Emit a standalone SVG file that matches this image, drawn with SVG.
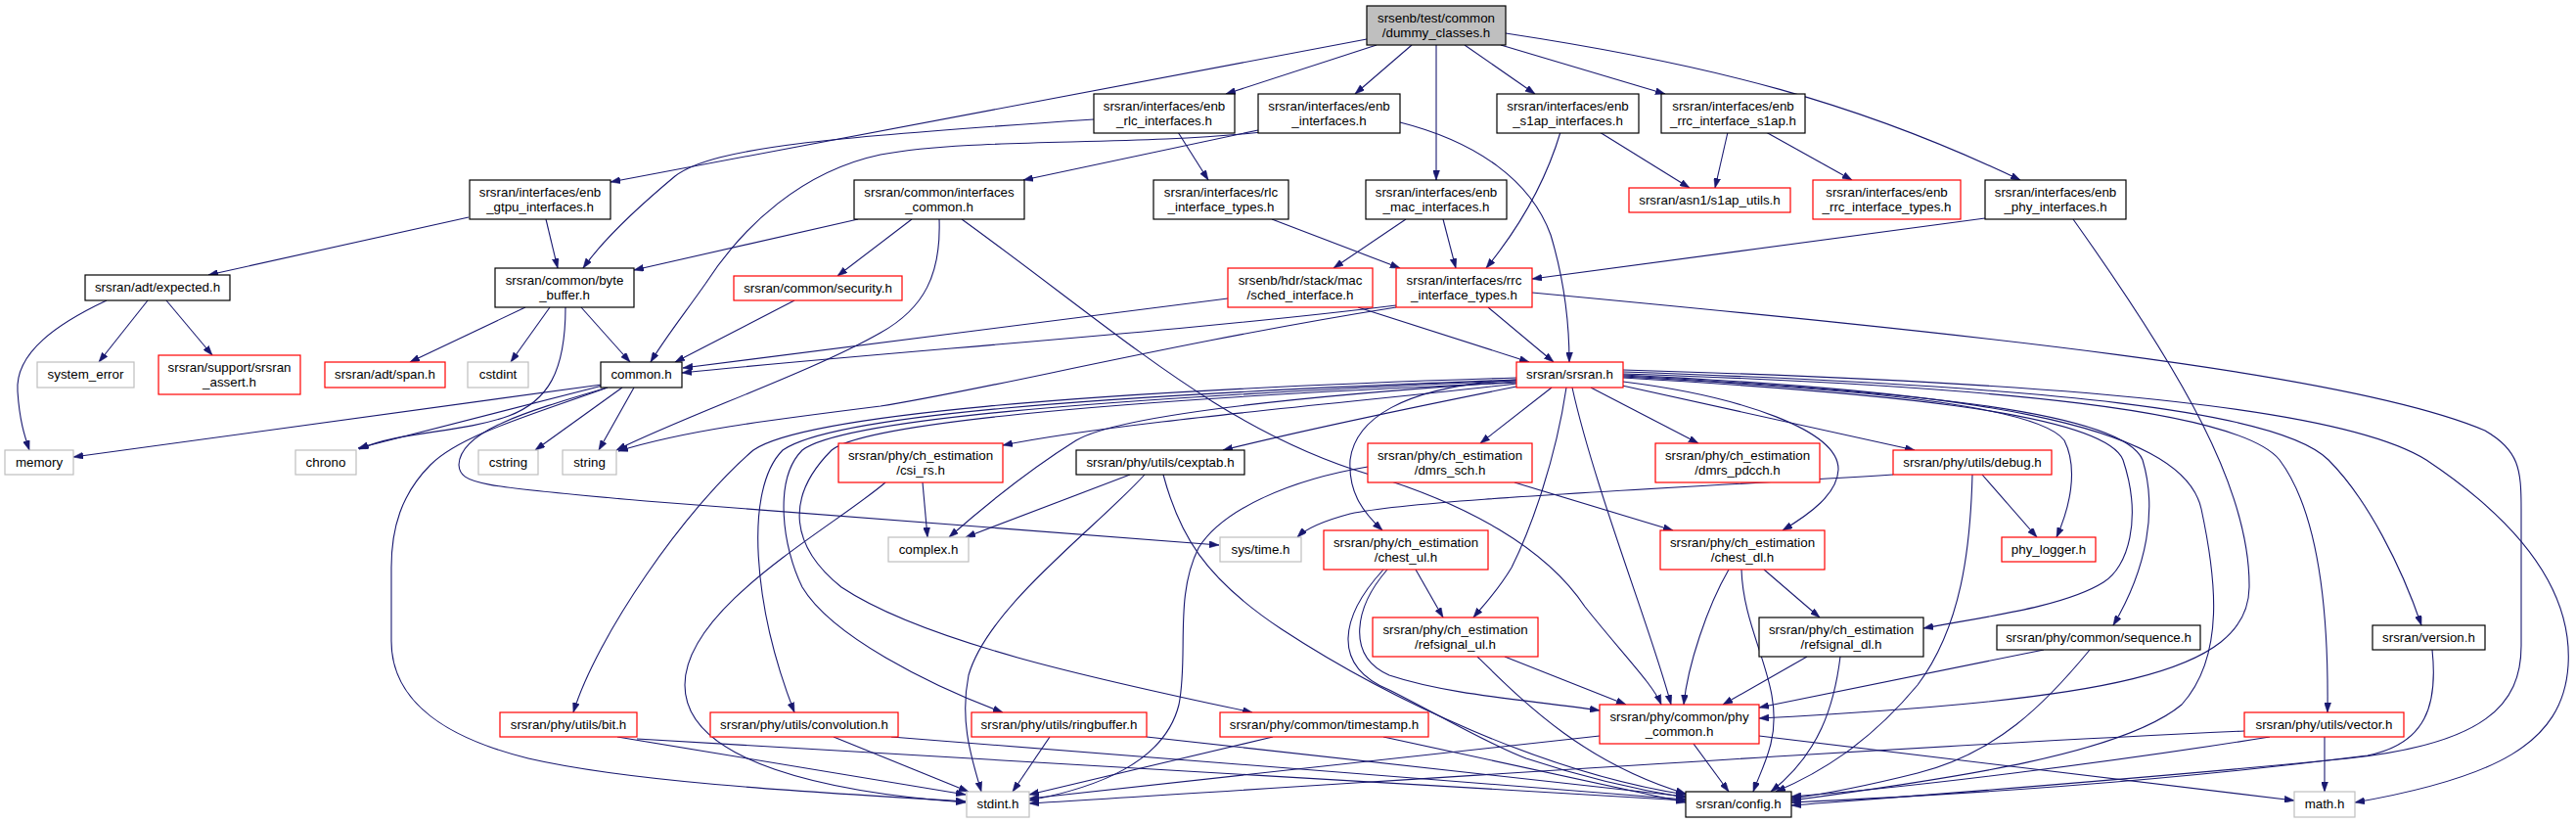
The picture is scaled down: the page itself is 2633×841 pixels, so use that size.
<svg xmlns="http://www.w3.org/2000/svg" width="2633" height="841" viewBox="0 0 2633 841">
<defs>
<marker id="ah" viewBox="0 0 10 7" refX="10" refY="3.5" markerWidth="10" markerHeight="7" markerUnits="userSpaceOnUse" orient="auto">
<path d="M0,0 L10,3.5 L0,7 z" fill="#191970" stroke="#191970" stroke-width="0.5"/>
</marker>
</defs>
<style>
.e{fill:none;stroke:#191970;stroke-width:1.1;marker-end:url(#ah)}
rect{fill:#fff;stroke-width:1.2}
.blk{stroke:#000}
.red{stroke:#ff0000}
.gry{stroke:#bfbfbf}
.root{fill:#bfbfbf;stroke:#000}
text{font-family:"Liberation Sans",Arial,Helvetica,sans-serif;font-size:13.33px;text-anchor:middle;fill:#000}
</style>
<rect x="0" y="0" width="2633" height="841" style="fill:#fff;stroke:none"/>
<g id="edges">
<path class="e" d="M1397,40 L624,186"/>
<path class="e" d="M1407,46 L1253,96"/>
<path class="e" d="M1443,46 L1385,96"/>
<path class="e" d="M1468,46 L1468,184"/>
<path class="e" d="M1497,46 L1569,96"/>
<path class="e" d="M1534,46 L1702,96"/>
<path class="e" d="M1539,34 C1750,66 1900,105 2065,184"/>
<path class="e" d="M479,222 L213,281"/>
<path class="e" d="M558,224 L570,274"/>
<path class="e" d="M1118,122 C850,140 730,150 690,180 C660,205 620,240 596,274"/>
<path class="e" d="M877,224 L648,276"/>
<path class="e" d="M1286,133 L1046,184"/>
<path class="e" d="M1290,135 C1150,150 1000,140 900,158 C820,175 760,230 721,290 C700,320 680,345 665,370"/>
<path class="e" d="M1431,125 C1510,145 1565,185 1585,240 C1600,290 1604,330 1604,370"/>
<path class="e" d="M1204,135 L1235,184"/>
<path class="e" d="M1437,224 L1363,274"/>
<path class="e" d="M1475,224 L1488,274"/>
<path class="e" d="M1595,135 C1580,185 1555,230 1519,274"/>
<path class="e" d="M1635,135 L1727,192"/>
<path class="e" d="M1766,135 L1753,192"/>
<path class="e" d="M1805,135 L1893,184"/>
<path class="e" d="M2029,223 L1566,285"/>
<path class="e" d="M2119,224 C2230,380 2300,500 2299,600 C2298,690 2150,715 1798,734"/>
<path class="e" d="M1300,224 L1431,274"/>
<path class="e" d="M109,307 C60,330 15,360 18,400 C20,430 25,445 30,460"/>
<path class="e" d="M151,307 L101,370"/>
<path class="e" d="M170,307 L217,363"/>
<path class="e" d="M537,314 L419,370"/>
<path class="e" d="M562,314 L522,370"/>
<path class="e" d="M594,314 L644,370"/>
<path class="e" d="M578,314 C578,380 560,410 520,425 C470,443 410,440 367,459"/>
<path class="e" d="M615,393 L75,467"/>
<path class="e" d="M616,394 L366,458"/>
<path class="e" d="M636,396 L547,460"/>
<path class="e" d="M648,396 L612,460"/>
<path class="e" d="M621,396 C540,420 470,440 469,475 C470,495 490,497 660,512 L1246,557"/>
<path class="e" d="M621,396 C540,425 470,445 440,475 C410,505 400,540 400,580 L400,655 C400,720 460,755 540,775 C640,798 800,808 987,819"/>
<path class="e" d="M932,224 L856,282"/>
<path class="e" d="M960,224 C962,280 945,315 900,340 C830,380 700,425 630,460"/>
<path class="e" d="M983,224 C1150,345 1250,440 1400,485 C1500,515 1580,560 1620,620 C1660,670 1690,700 1698,720"/>
<path class="e" d="M812,307 L690,370"/>
<path class="e" d="M1255,305 L698,376"/>
<path class="e" d="M1388,314 L1563,370"/>
<path class="e" d="M1521,314 L1588,370"/>
<path class="e" d="M1427,312 C1200,340 900,360 697,381"/>
<path class="e" d="M1427,314 C1200,350 1000,400 900,415 C780,430 700,440 632,461"/>
<path class="e" d="M1566,299 C2000,340 2400,380 2540,440 C2575,460 2577,480 2577,520 L2577,660 C2577,720 2540,760 2400,775 C2200,795 2000,810 1831,823"/>
<path class="e" d="M1550,390 C1400,400 1150,420 1100,450 C1060,475 1020,505 970,549"/>
<path class="e" d="M1550,392 C1400,410 1150,430 1025,455"/>
<path class="e" d="M1550,395 C1450,415 1330,440 1250,460"/>
<path class="e" d="M1550,386 C1100,400 820,425 770,460 C700,520 610,650 586,728"/>
<path class="e" d="M1550,388 C1100,405 850,425 800,460 C760,500 770,620 812,728"/>
<path class="e" d="M1550,389 C1100,408 860,430 820,460 C790,490 800,560 820,600 C850,650 950,700 1025,728"/>
<path class="e" d="M1550,391 C1100,410 880,435 850,460 C800,510 810,560 860,600 C950,660 1150,700 1280,728"/>
<path class="e" d="M1586,396 L1513,453"/>
<path class="e" d="M1550,388 C1430,395 1385,430 1380,470 C1378,505 1395,525 1413,542"/>
<path class="e" d="M1601,396 C1590,470 1565,540 1545,580 C1530,605 1515,620 1506,631"/>
<path class="e" d="M1607,396 C1630,500 1690,650 1708,720"/>
<path class="e" d="M1626,396 L1736,453"/>
<path class="e" d="M1659,390 C1780,405 1880,440 1879,480 C1878,505 1850,525 1822,542"/>
<path class="e" d="M1658,394 L1957,460"/>
<path class="e" d="M1659,385 C1850,395 2080,410 2110,450 C2125,480 2115,520 2102,549"/>
<path class="e" d="M1659,386 C1900,400 2150,420 2170,470 C2190,530 2175,580 2150,595 C2110,620 2030,630 1966,642"/>
<path class="e" d="M1659,384 C1950,400 2170,420 2190,470 C2205,520 2195,580 2160,639"/>
<path class="e" d="M1659,383 C2000,400 2230,430 2250,520 C2265,590 2275,670 2230,720 C2170,770 2000,795 1831,818"/>
<path class="e" d="M1659,382 C2050,395 2290,420 2330,470 C2375,530 2380,650 2379,728"/>
<path class="e" d="M1659,380 C2100,395 2330,420 2380,470 C2420,510 2455,580 2475,639"/>
<path class="e" d="M1659,378 C2150,392 2400,420 2480,470 C2570,530 2630,600 2625,680 C2620,760 2550,795 2407,820"/>
<path class="e" d="M943,493 L948,549"/>
<path class="e" d="M905,493 C850,540 700,620 700,700 C700,780 850,810 987,820"/>
<path class="e" d="M1155,485 L987,549"/>
<path class="e" d="M1170,485 C1120,540 1010,620 990,690 C980,740 995,780 1003,809"/>
<path class="e" d="M1189,485 C1205,545 1230,590 1310,643 C1420,715 1580,790 1723,812"/>
<path class="e" d="M1548,493 L1710,542"/>
<path class="e" d="M1398,477 C1320,490 1250,520 1225,560 C1200,610 1215,670 1205,720 C1190,780 1120,805 1052,818"/>
<path class="e" d="M1935,485 C1700,500 1450,510 1380,525 C1350,533 1335,540 1326,549"/>
<path class="e" d="M2016,485 C2014,560 2005,640 1960,700 C1910,760 1860,790 1815,809"/>
<path class="e" d="M2026,485 L2082,549"/>
<path class="e" d="M1447,582 L1475,631"/>
<path class="e" d="M1418,582 C1385,620 1375,670 1420,690 C1480,710 1560,715 1635,726"/>
<path class="e" d="M1414,582 C1370,630 1360,680 1420,705 C1470,730 1520,760 1560,775 C1620,795 1680,808 1723,815"/>
<path class="e" d="M1538,671 L1662,720"/>
<path class="e" d="M1510,671 C1560,720 1620,780 1723,811"/>
<path class="e" d="M1767,582 C1745,620 1725,680 1721,720"/>
<path class="e" d="M1780,582 C1782,650 1825,700 1810,760 C1805,780 1797,795 1792,809"/>
<path class="e" d="M1803,582 L1860,631"/>
<path class="e" d="M1847,671 L1761,720"/>
<path class="e" d="M1881,671 C1875,720 1860,770 1810,809"/>
<path class="e" d="M2089,664 L1798,723"/>
<path class="e" d="M2136,664 C2090,720 2040,770 1960,790 C1900,805 1860,812 1831,816"/>
<path class="e" d="M2486,664 C2492,720 2480,760 2420,772 C2200,800 2000,812 1831,820"/>
<path class="e" d="M2376,753 L2376,809"/>
<path class="e" d="M2294,747 C1900,765 1400,800 1052,821"/>
<path class="e" d="M2320,753 C2150,780 1950,805 1831,814"/>
<path class="e" d="M1798,752 L2345,818"/>
<path class="e" d="M1635,752 L1052,816"/>
<path class="e" d="M1731,760 L1767,809"/>
<path class="e" d="M1301,753 L1052,812"/>
<path class="e" d="M1414,753 L1723,820"/>
<path class="e" d="M852,753 L990,809"/>
<path class="e" d="M911,753 L1723,817"/>
<path class="e" d="M1073,753 L1035,809"/>
<path class="e" d="M1172,753 L1723,814"/>
<path class="e" d="M631,753 L987,812"/>
<path class="e" d="M651,755 L1723,818"/>
</g>
<g id="n_dummy"><rect class="root" x="1397" y="6" width="142" height="40"/><text x="1468" y="23">srsenb/test/common</text><text x="1468" y="38">/dummy_classes.h</text></g>
<g id="n_gtpu"><rect class="blk" x="480" y="184" width="144" height="40"/><text x="552" y="201">srsran/interfaces/enb</text><text x="552" y="216">_gtpu_interfaces.h</text></g>
<g id="n_rlc_if"><rect class="blk" x="1118" y="96" width="144" height="40"/><text x="1190" y="113">srsran/interfaces/enb</text><text x="1190" y="128">_rlc_interfaces.h</text></g>
<g id="n_enb_if"><rect class="blk" x="1286" y="96" width="145" height="40"/><text x="1358.5" y="113">srsran/interfaces/enb</text><text x="1358.5" y="128">_interfaces.h</text></g>
<g id="n_mac_if"><rect class="blk" x="1396" y="184" width="144" height="40"/><text x="1468" y="201">srsran/interfaces/enb</text><text x="1468" y="216">_mac_interfaces.h</text></g>
<g id="n_s1ap_if"><rect class="blk" x="1530" y="96" width="145" height="40"/><text x="1602.5" y="113">srsran/interfaces/enb</text><text x="1602.5" y="128">_s1ap_interfaces.h</text></g>
<g id="n_rrc_s1ap"><rect class="blk" x="1698" y="96" width="147" height="40"/><text x="1771.5" y="113">srsran/interfaces/enb</text><text x="1771.5" y="128">_rrc_interface_s1ap.h</text></g>
<g id="n_phy_if"><rect class="blk" x="2029" y="184" width="144" height="40"/><text x="2101" y="201">srsran/interfaces/enb</text><text x="2101" y="216">_phy_interfaces.h</text></g>
<g id="n_ifc_common"><rect class="blk" x="873" y="184" width="174" height="40"/><text x="960" y="201">srsran/common/interfaces</text><text x="960" y="216">_common.h</text></g>
<g id="n_rlc_types"><rect class="blk" x="1179" y="184" width="138" height="40"/><text x="1248" y="201">srsran/interfaces/rlc</text><text x="1248" y="216">_interface_types.h</text></g>
<g id="n_s1ap_utils"><rect class="red" x="1665" y="192" width="165" height="25"/><text x="1747.5" y="209">srsran/asn1/s1ap_utils.h</text></g>
<g id="n_enb_rrc_types"><rect class="red" x="1853" y="184" width="151" height="40"/><text x="1928.5" y="201">srsran/interfaces/enb</text><text x="1928.5" y="216">_rrc_interface_types.h</text></g>
<g id="n_expected"><rect class="blk" x="87" y="281" width="148" height="26"/><text x="161" y="298">srsran/adt/expected.h</text></g>
<g id="n_byte_buffer"><rect class="blk" x="506" y="274" width="142" height="40"/><text x="577" y="291">srsran/common/byte</text><text x="577" y="306">_buffer.h</text></g>
<g id="n_security"><rect class="red" x="750" y="282" width="172" height="25"/><text x="836" y="299">srsran/common/security.h</text></g>
<g id="n_sched"><rect class="red" x="1255" y="274" width="148" height="40"/><text x="1329" y="291">srsenb/hdr/stack/mac</text><text x="1329" y="306">/sched_interface.h</text></g>
<g id="n_rrc_types"><rect class="red" x="1427" y="274" width="139" height="40"/><text x="1496.5" y="291">srsran/interfaces/rrc</text><text x="1496.5" y="306">_interface_types.h</text></g>
<g id="n_system_error"><rect class="gry" x="38" y="370" width="99" height="26"/><text x="87.5" y="387">system_error</text></g>
<g id="n_assert"><rect class="red" x="162" y="363" width="145" height="40"/><text x="234.5" y="380">srsran/support/srsran</text><text x="234.5" y="395">_assert.h</text></g>
<g id="n_span"><rect class="red" x="332" y="370" width="123" height="26"/><text x="393.5" y="387">srsran/adt/span.h</text></g>
<g id="n_cstdint"><rect class="gry" x="478" y="370" width="62" height="26"/><text x="509" y="387">cstdint</text></g>
<g id="n_common"><rect class="blk" x="614" y="370" width="83" height="26"/><text x="655.5" y="387">common.h</text></g>
<g id="n_srsran"><rect class="red" x="1550" y="370" width="109" height="26"/><text x="1604.5" y="387">srsran/srsran.h</text></g>
<g id="n_memory"><rect class="gry" x="5" y="460" width="70" height="25"/><text x="40" y="477">memory</text></g>
<g id="n_chrono"><rect class="gry" x="302" y="460" width="62" height="25"/><text x="333" y="477">chrono</text></g>
<g id="n_cstring"><rect class="gry" x="489" y="460" width="61" height="25"/><text x="519.5" y="477">cstring</text></g>
<g id="n_string"><rect class="gry" x="575" y="460" width="55" height="25"/><text x="602.5" y="477">string</text></g>
<g id="n_csi_rs"><rect class="red" x="857" y="453" width="168" height="40"/><text x="941" y="470">srsran/phy/ch_estimation</text><text x="941" y="485">/csi_rs.h</text></g>
<g id="n_cexptab"><rect class="blk" x="1100" y="460" width="172" height="25"/><text x="1186" y="477">srsran/phy/utils/cexptab.h</text></g>
<g id="n_dmrs_sch"><rect class="red" x="1398" y="453" width="168" height="40"/><text x="1482" y="470">srsran/phy/ch_estimation</text><text x="1482" y="485">/dmrs_sch.h</text></g>
<g id="n_dmrs_pdcch"><rect class="red" x="1692" y="453" width="168" height="40"/><text x="1776" y="470">srsran/phy/ch_estimation</text><text x="1776" y="485">/dmrs_pdcch.h</text></g>
<g id="n_debug"><rect class="red" x="1935" y="460" width="162" height="25"/><text x="2016" y="477">srsran/phy/utils/debug.h</text></g>
<g id="n_complex"><rect class="gry" x="908" y="549" width="82" height="25"/><text x="949" y="566">complex.h</text></g>
<g id="n_systime"><rect class="gry" x="1247" y="549" width="83" height="25"/><text x="1288.5" y="566">sys/time.h</text></g>
<g id="n_phy_logger"><rect class="red" x="2046" y="549" width="96" height="25"/><text x="2094" y="566">phy_logger.h</text></g>
<g id="n_chest_ul"><rect class="red" x="1353" y="542" width="168" height="40"/><text x="1437" y="559">srsran/phy/ch_estimation</text><text x="1437" y="574">/chest_ul.h</text></g>
<g id="n_chest_dl"><rect class="red" x="1697" y="542" width="168" height="40"/><text x="1781" y="559">srsran/phy/ch_estimation</text><text x="1781" y="574">/chest_dl.h</text></g>
<g id="n_refsignal_ul"><rect class="red" x="1403" y="631" width="169" height="40"/><text x="1487.5" y="648">srsran/phy/ch_estimation</text><text x="1487.5" y="663">/refsignal_ul.h</text></g>
<g id="n_refsignal_dl"><rect class="blk" x="1798" y="631" width="168" height="40"/><text x="1882" y="648">srsran/phy/ch_estimation</text><text x="1882" y="663">/refsignal_dl.h</text></g>
<g id="n_sequence"><rect class="blk" x="2041" y="639" width="208" height="25"/><text x="2145" y="656">srsran/phy/common/sequence.h</text></g>
<g id="n_version"><rect class="blk" x="2425" y="639" width="115" height="25"/><text x="2482.5" y="656">srsran/version.h</text></g>
<g id="n_phy_common"><rect class="red" x="1635" y="720" width="163" height="40"/><text x="1716.5" y="737">srsran/phy/common/phy</text><text x="1716.5" y="752">_common.h</text></g>
<g id="n_bit"><rect class="red" x="511" y="728" width="140" height="25"/><text x="581" y="745">srsran/phy/utils/bit.h</text></g>
<g id="n_convolution"><rect class="red" x="726" y="728" width="192" height="25"/><text x="822" y="745">srsran/phy/utils/convolution.h</text></g>
<g id="n_ringbuffer"><rect class="red" x="993" y="728" width="179" height="25"/><text x="1082.5" y="745">srsran/phy/utils/ringbuffer.h</text></g>
<g id="n_timestamp"><rect class="red" x="1247" y="728" width="213" height="25"/><text x="1353.5" y="745">srsran/phy/common/timestamp.h</text></g>
<g id="n_vector"><rect class="red" x="2294" y="728" width="163" height="25"/><text x="2375.5" y="745">srsran/phy/utils/vector.h</text></g>
<g id="n_stdint"><rect class="gry" x="988" y="809" width="64" height="26"/><text x="1020" y="826">stdint.h</text></g>
<g id="n_config"><rect class="blk" x="1723" y="809" width="108" height="26"/><text x="1777" y="826">srsran/config.h</text></g>
<g id="n_math"><rect class="gry" x="2345" y="809" width="62" height="26"/><text x="2376" y="826">math.h</text></g>
</svg>
